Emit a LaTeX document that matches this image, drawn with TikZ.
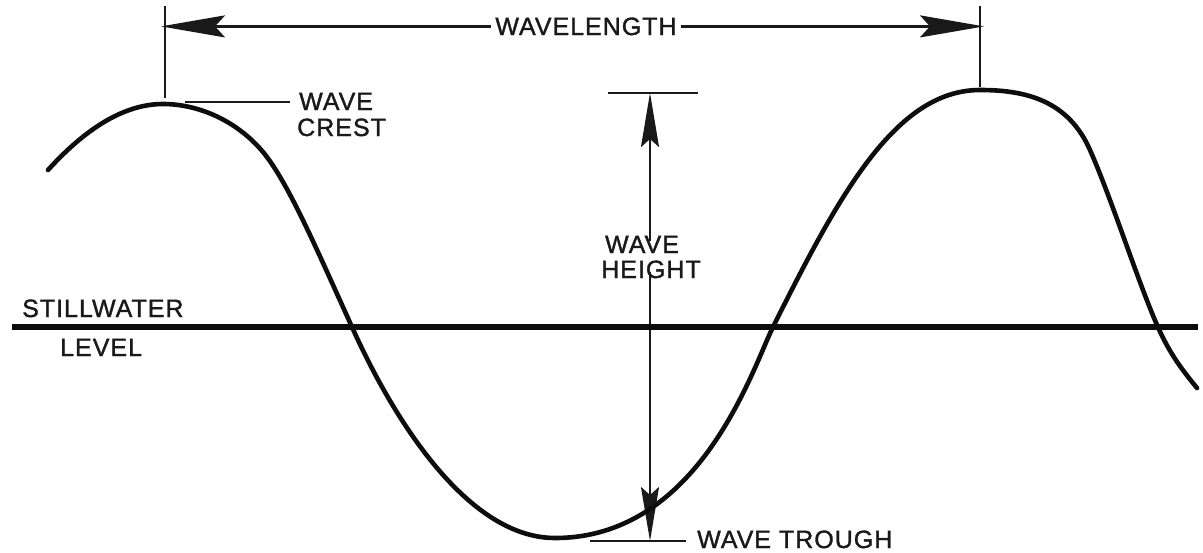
\documentclass[tikz,border=0pt]{standalone}
\usepackage{fontspec}
\setmainfont{Liberation Sans}
\newfontfamily\lblfont[FakeBold=1.3,LetterSpace=4]{Liberation Sans}
\usetikzlibrary{arrows.meta}
\begin{document}
\begin{tikzpicture}[x=1pt,y=-1pt,
  lbl/.style={font=\lblfont\fontsize{25}{27}\selectfont, inner sep=0pt, text=black!90},
  thinline/.style={line width=2.3pt, draw=black!90},
  bigtip/.style={-{Stealth[length=64pt,width=22pt,inset=10pt]}},
  hgtip/.style={-{Stealth[length=54pt,width=18pt,inset=8pt]}},
  wave/.style={line width=4.6pt, draw=black!95, line cap=round, line join=round},
  still/.style={line width=6.5pt, draw=black!95},
]
\useasboundingbox[fill=white] (0,0) rectangle (1203,552);

% reference coordinates
\coordinate (tlT) at (165,6);
\coordinate (tlB) at (165,98);
\coordinate (trT) at (980,6);
\coordinate (trB) at (980,87);
\coordinate (hT) at (650,93);
\coordinate (hB) at (650,541);
\coordinate (crL) at (608,93);
\coordinate (crR) at (698,93);
\coordinate (tgL) at (590,541);
\coordinate (tgR) at (686,541);
\coordinate (swL) at (12,327);
\coordinate (swR) at (1198,327);
\coordinate (wcE) at (185,102);

% labels
\node[lbl, anchor=base] (wl) at (586,35) {WAVELENGTH};
\node[lbl, anchor=base west] (wc1) at (299,110) {WAVE};
\node[lbl, anchor=base west] (wc2) at (297,136) {CREST};
\node[lbl, anchor=base] (wh1) at (642,253) {WAVE};
\node[lbl, anchor=base] (wh2) at (651,278) {HEIGHT};
\node[lbl, anchor=base west] (sw1) at (22,317) {STILLWATER};
\node[lbl, anchor=base west] (sw2) at (60,356) {LEVEL};
\node[lbl, anchor=base west] (tr) at (697,548) {WAVE TROUGH};

% wavelength
\draw[thinline] (tlT) -- (tlB);
\draw[thinline] (trT) -- (trB);
\draw[thinline, bigtip] ([xshift=-4pt]wl.west) -- ([xshift=-4pt]wl.west -| tlT);
\draw[thinline, bigtip] ([xshift=4pt]wl.east) -- ([xshift=4pt]wl.east -| trT);

% crest
\draw[thinline] (wcE) -- ([xshift=-9pt]wc1.west |- wcE);

% height
\draw[thinline] (crL) -- (crR);
\draw[thinline] (tgL) -- (tgR);
\draw[thinline, hgtip] ([yshift=-5pt]wh1.north -| hT) -- (hT);
\draw[thinline, hgtip] ([yshift=6pt]wh2.south -| hB) -- (hB);

% still water level
\draw[still] (swL) -- (swR);

% wave profile
\draw[wave] (48,170) .. controls (78,137) and (118,104) .. (163,104)
  .. controls (200,104) and (238,122) .. (263,152)
  .. controls (288,182) and (317,250) .. (352,327)
  .. controls (390,412) and (465,538) .. (555,538)
  .. controls (700,538) and (753,367) .. (773,327)
  .. controls (838,197) and (895,90) .. (980,90)
  .. controls (1025,90) and (1068,100) .. (1090,150)
  .. controls (1112,200) and (1137,279) .. (1157,325)
  .. controls (1170,355) and (1184,372) .. (1197,388);
\end{tikzpicture}
\end{document}
